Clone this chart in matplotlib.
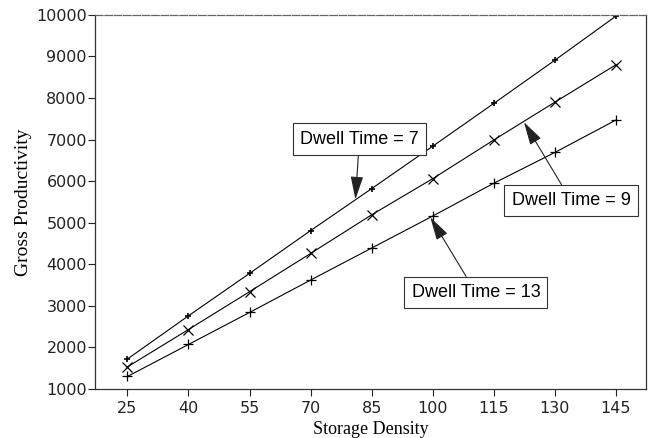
import numpy as np
import matplotlib
matplotlib.use("Agg")
import matplotlib.pyplot as plt

# storage density on x, gross productivity for each dwell time
density = [25, 40, 55, 70, 85, 100, 115, 130, 145]
dwell_7 = [1720, 2760, 3780, 4810, 5820, 6840, 7870, 8910, 9970]
dwell_9 = [1530, 2430, 3340, 4260, 5190, 6060, 6990, 7900, 8800]
dwell_13 = [1300, 2070, 2840, 3620, 4390, 5160, 5950, 6690, 7470]

y_ticks = [1000, 2000, 3000, 4000, 5000, 6000, 7000, 8000, 9000, 10000]

fig = plt.figure(figsize=(6.48, 4.38), dpi=100)
ax = fig.add_axes([0.147, 0.112, 0.850, 0.854])

ax.plot(density, dwell_7, color='black', lw=0.8, marker='+', ms=5, mew=1.2)
ax.plot(density, dwell_9, color='black', lw=0.8, marker='x', ms=7, mew=0.9)
ax.plot(density, dwell_13, color='black', lw=0.8, marker='+', ms=7, mew=0.9)

ax.set_xlim(17.1, 152.4)
ax.set_ylim(1000, 10000)
ax.set_xticks(density)
ax.set_yticks(y_ticks)

for lab in ax.get_xticklabels() + ax.get_yticklabels():
    lab.set_family('DejaVu Sans')
    lab.set_fontsize(11.5)
    lab.set_color('#222222')

ax.tick_params(axis='both', direction='out', length=5, width=0.8, colors='#222222', pad=1)
ax.tick_params(axis='x', pad=4)

for side in ['left', 'bottom', 'right']:
    ax.spines[side].set_linewidth(0.9)
    ax.spines[side].set_color('#333333')
ax.spines['top'].set_linewidth(0.9)
ax.spines['top'].set_color('#666666')
ax.spines['top'].set_linestyle((0, (6, 1.5)))

ax.set_xlabel('Storage Density', family='Liberation Serif', fontsize=13, labelpad=3)
ax.set_ylabel('Gross Productivity', family='Liberation Serif', fontsize=14, labelpad=3)

box = dict(boxstyle='square,pad=0.4', fc='white', ec='#333333', lw=0.8)
arrow = dict(arrowstyle='-|>,head_length=1.1,head_width=0.3', color='#222222', lw=0.8, shrinkA=0, shrinkB=0)

ax.annotate('Dwell Time = 7', xy=(81, 5560), xytext=(82, 7010),
            family='Liberation Sans', fontsize=13, ha='center', va='center',
            bbox=box, arrowprops=arrow)
ax.annotate('Dwell Time = 9', xy=(122.4, 7420), xytext=(134, 5530),
            family='Liberation Sans', fontsize=13, ha='center', va='center',
            bbox=box, arrowprops=arrow)
ax.annotate('Dwell Time = 13', xy=(99.4, 5130), xytext=(110.6, 3320),
            family='Liberation Sans', fontsize=13, ha='center', va='center',
            bbox=box, arrowprops=arrow)

fig.savefig('out.png', dpi=100)
